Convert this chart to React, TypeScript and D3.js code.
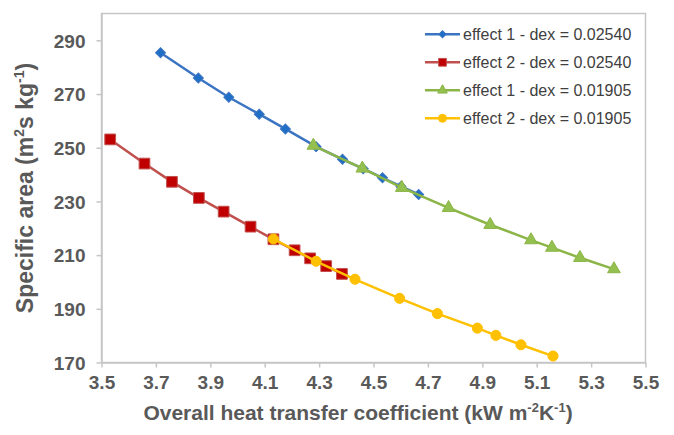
import React, { useEffect, useRef } from 'react';
import * as d3 from 'd3';

// effect 1 - dex = 0.02540
const xE1Dex2540 = [3.717, 3.856, 3.968, 4.080, 4.176, 4.289, 4.386, 4.462, 4.533, 4.601, 4.666];
const yE1Dex2540 = [285.4, 276.0, 268.8, 262.5, 257.0, 250.4, 245.7, 242.2, 238.8, 235.6, 232.6];
// effect 2 - dex = 0.02540
const xE2Dex2540 = [3.532, 3.658, 3.759, 3.858, 3.949, 4.048, 4.132, 4.210, 4.267, 4.326, 4.384];
const yE2Dex2540 = [253.1, 244.1, 237.3, 231.3, 226.2, 220.6, 215.9, 211.8, 208.8, 205.9, 203.0];
// effect 1 - dex = 0.01905
const xE1Dex1905 = [4.279, 4.459, 4.604, 4.776, 4.929, 5.079, 5.156, 5.259, 5.384];
const yE1Dex1905 = [250.8, 242.3, 235.1, 227.6, 221.3, 215.6, 212.8, 209.0, 204.8];
// effect 2 - dex = 0.01905
const xE2Dex1905 = [4.132, 4.289, 4.432, 4.596, 4.735, 4.882, 4.950, 5.042, 5.160];
const yE2Dex1905 = [216.0, 207.7, 201.0, 193.9, 188.2, 182.8, 180.1, 176.6, 172.4];

const seriesNames = [
  'effect 1 - dex = 0.02540',
  'effect 2 - dex = 0.02540',
  'effect 1 - dex = 0.01905',
  'effect 2 - dex = 0.01905'
];
const xTicks = [3.5, 3.7, 3.9, 4.1, 4.3, 4.5, 4.7, 4.9, 5.1, 5.3, 5.5];
const yTicks = [170, 190, 210, 230, 250, 270, 290];

const FONT = '"Liberation Sans", Arial, sans-serif';

export default function App() {
  const ref = useRef<SVGSVGElement>(null);

  useEffect(() => {
    const width = 674;
    const height = 435;
    const m = { left: 101.5, right: 645.5, top: 13.5, bottom: 362.5 };

    const svg = d3.select(ref.current);
    svg.selectAll('*').remove();

    const x = d3.scaleLinear().domain([3.5, 5.5]).range([m.left, m.right]);
    const y = d3.scaleLinear().domain([170, 300]).range([m.bottom, m.top]);

    svg.append('rect')
      .attr('width', width)
      .attr('height', height)
      .attr('fill', '#fff');

    // plot frame
    svg.append('rect')
      .attr('x', m.left)
      .attr('y', m.top)
      .attr('width', m.right - m.left)
      .attr('height', m.bottom - m.top)
      .attr('fill', 'none')
      .attr('stroke', '#c6c6c6')
      .attr('stroke-width', 1.5);

    const xAxis = svg.append('g')
      .attr('transform', 'translate(0,' + m.bottom + ')')
      .call(d3.axisBottom(x).tickValues(xTicks).tickSize(5).tickSizeOuter(0).tickFormat(d3.format('.1f')));
    const yAxis = svg.append('g')
      .attr('transform', 'translate(' + m.left + ',0)')
      .call(d3.axisLeft(y).tickValues(yTicks).tickSize(5).tickSizeOuter(0).tickFormat(d3.format('d')));

    [xAxis, yAxis].forEach(a => {
      a.select('.domain').attr('stroke', '#c6c6c6').attr('stroke-width', 1.5);
      a.selectAll('.tick line').attr('stroke', '#c6c6c6').attr('stroke-width', 1.5);
      a.selectAll('.tick text')
        .attr('fill', '#595959')
        .style('font-family', FONT)
        .style('font-size', '19px')
        .style('font-weight', 'bold');
    });
    xAxis.selectAll('.tick text').attr('y', 13).attr('dy', '0.71em');
    yAxis.selectAll('.tick text').attr('x', -16).attr('dy', '0.35em');

    // axis titles
    const xt = svg.append('text')
      .attr('x', 358)
      .attr('y', 420)
      .attr('text-anchor', 'middle')
      .attr('fill', '#595959')
      .style('font-family', FONT)
      .style('font-size', '21px')
      .style('font-weight', 'bold');
    xt.append('tspan').text('Overall heat transfer coefficient (kW m');
    xt.append('tspan').attr('dy', -8).style('font-size', '13px').text('-2');
    xt.append('tspan').attr('dy', 8).text('K');
    xt.append('tspan').attr('dy', -8).style('font-size', '13px').text('-1');
    xt.append('tspan').attr('dy', 8).text(')');

    const yt = svg.append('text')
      .attr('transform', 'translate(33,' + ((m.top + m.bottom) / 2) + ') rotate(-90)')
      .attr('text-anchor', 'middle')
      .attr('fill', '#595959')
      .style('font-family', FONT)
      .style('font-size', '23px')
      .style('font-weight', 'bold');
    yt.append('tspan').text('Specific area (m');
    yt.append('tspan').attr('dy', -9).style('font-size', '14px').text('2');
    yt.append('tspan').attr('dy', 9).text('s kg');
    yt.append('tspan').attr('dy', -9).style('font-size', '14px').text('-1');
    yt.append('tspan').attr('dy', 9).text(')');

    const series = [
      { xs: xE1Dex2540, ys: yE1Dex2540, line: '#3b74c2', fill: '#1f6fc6', sym: d3.symbolSquare, size: 50, rot: 45, lsize: 26 },
      { xs: xE2Dex2540, ys: yE2Dex2540, line: '#c0504d', fill: '#c00000', sym: d3.symbolSquare, size: 115, rot: 0, lsize: 60 },
      { xs: xE1Dex1905, ys: yE1Dex1905, line: '#8cb547', fill: '#94c04f', sym: d3.symbolTriangle, size: 70, rot: 0, lsize: 40 },
      { xs: xE2Dex1905, ys: yE2Dex1905, line: '#ffc000', fill: '#ffc000', sym: d3.symbolCircle, size: 80, rot: 0, lsize: 50 }
    ];

    const line = d3.line<[number, number]>()
      .x(d => x(d[0]))
      .y(d => y(d[1]));

    series.forEach(s => {
      const pts: [number, number][] = s.xs.map((v, i) => [v, s.ys[i]]);
      const g = svg.append('g');
      g.append('path')
        .attr('d', line(pts))
        .attr('fill', 'none')
        .attr('stroke', s.line)
        .attr('stroke-width', 2.5);
      g.selectAll('path.mk')
        .data(pts)
        .enter()
        .append('path')
        .attr('class', 'mk')
        .attr('d', d3.symbol().type(s.sym).size(s.size)())
        .attr('transform', d => 'translate(' + x(d[0]) + ',' + y(d[1]) + ') rotate(' + s.rot + ')')
        .attr('fill', s.fill)
        .attr('stroke', s.line)
        .attr('stroke-width', 1);
    });

    // legend
    const lg = svg.append('g');
    series.forEach((s, i) => {
      const ly = 34.3 + i * 28;
      lg.append('line')
        .attr('x1', 425).attr('x2', 460)
        .attr('y1', ly).attr('y2', ly)
        .attr('stroke', s.line)
        .attr('stroke-width', 2.5);
      lg.append('path')
        .attr('d', d3.symbol().type(s.sym).size(s.lsize)())
        .attr('transform', 'translate(442.5,' + ly + ') rotate(' + s.rot + ')')
        .attr('fill', s.fill)
        .attr('stroke', s.line)
        .attr('stroke-width', 1);
      lg.append('text')
        .attr('x', 463)
        .attr('y', ly)
        .attr('dy', '0.35em')
        .attr('fill', '#404040')
        .style('font-family', FONT)
        .style('font-size', '16px')
        .text(seriesNames[i]);
    });
  }, []);

  return (
    <svg
      ref={ref}
      width={674}
      height={435}
      style={{ position: 'absolute', left: 0, top: 0 }}
    ></svg>
  );
}
